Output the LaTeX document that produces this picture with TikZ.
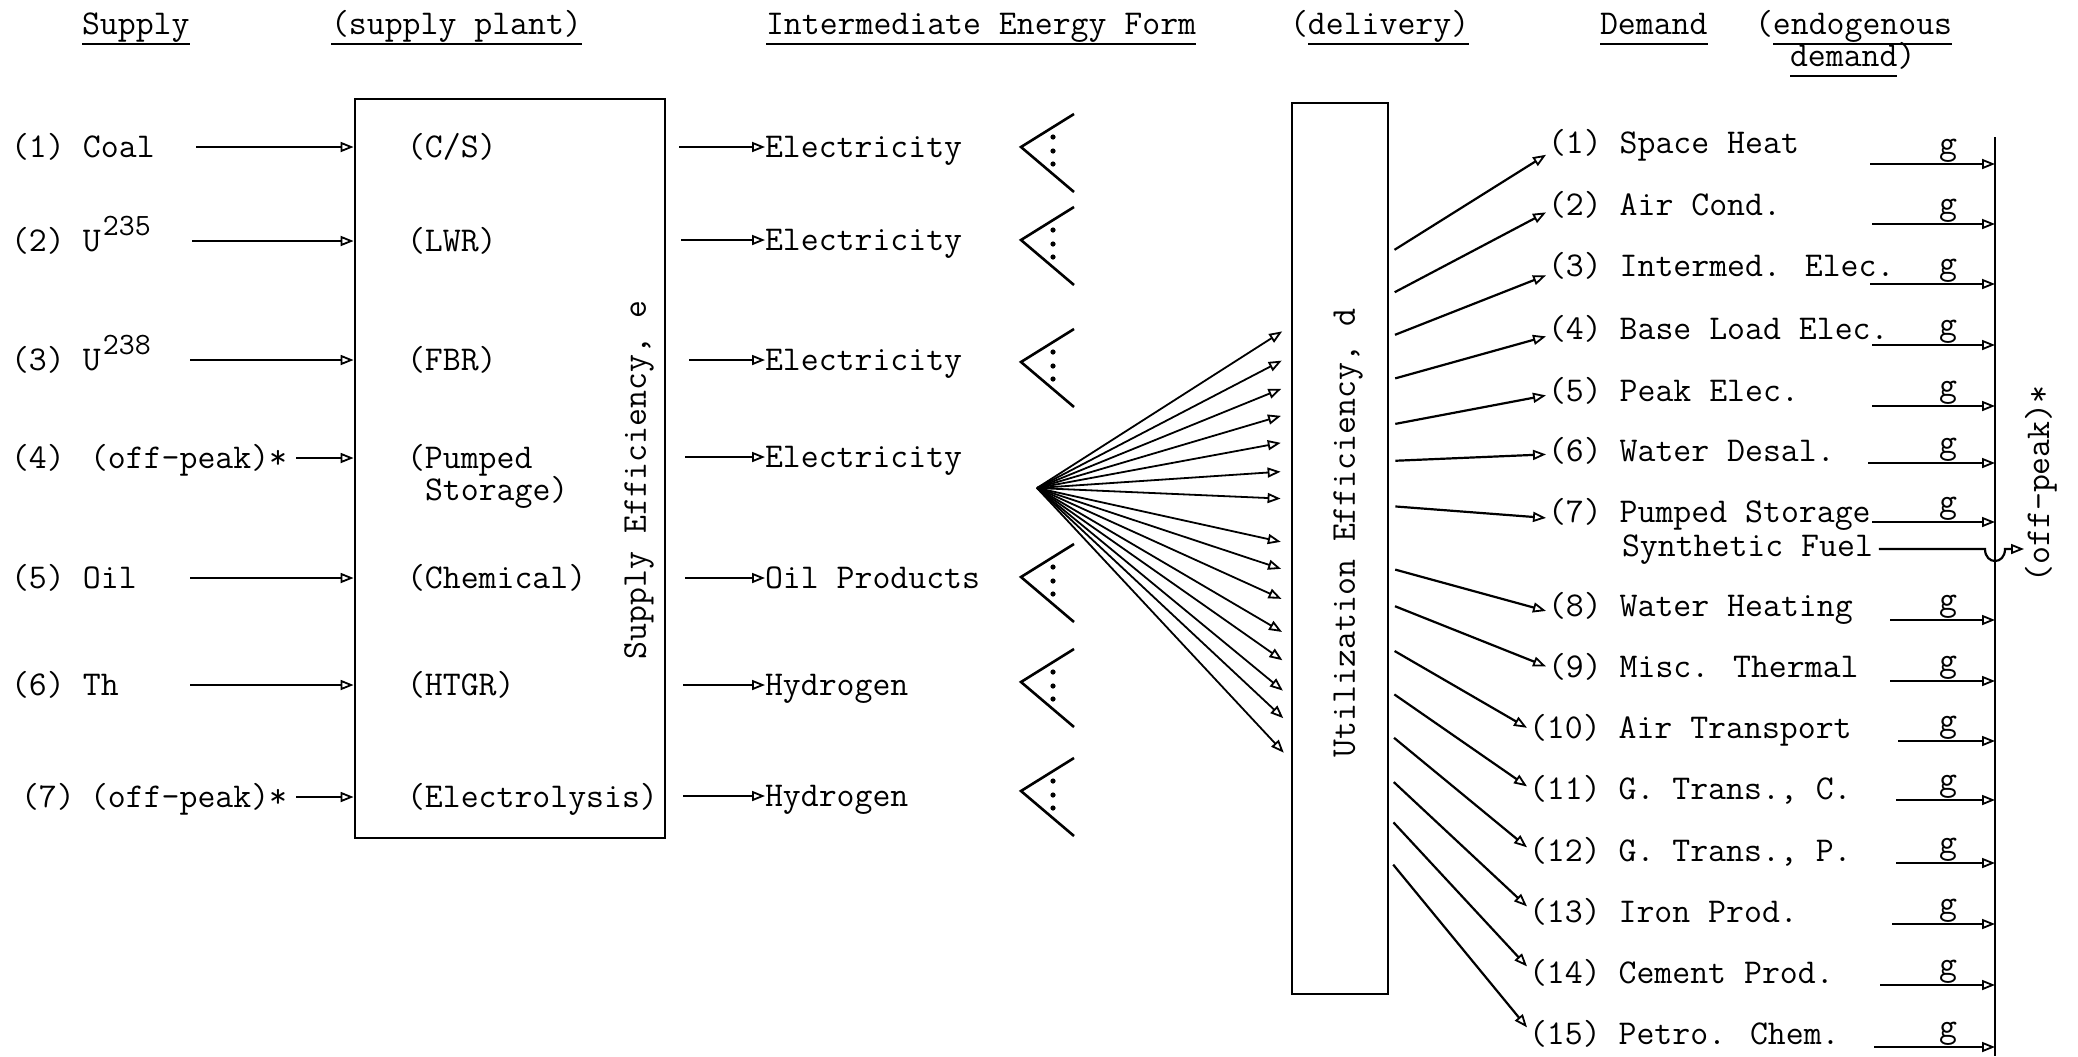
\documentclass[tikz,border=0pt]{standalone}
\usetikzlibrary{arrows.meta,calc}
\begin{document}
\begin{tikzpicture}[x=0.5pt,y=-0.5pt,
  tw/.style={font=\ttfamily\fontsize{17.4}{16}\selectfont, inner sep=0pt, outer sep=0pt},
  lbl/.style={tw, anchor=base west},
  rule/.style={line width=1.3pt},
  box/.style={draw, line width=1.4pt, inner sep=0pt},
  arr/.style={line width=1.1pt, -{Triangle[open,length=6.5pt,width=5pt,line width=0.9pt]}},
  wedge/.style={line width=1.3pt},
]
\useasboundingbox (0,0) rectangle (2078,1056);

% ---------- column headings ----------
\node[lbl] (hsup)   at (82,34)   {Supply};
\node[lbl] (hplant) at (331,34)  {(supply plant)};
\node[lbl] (hint)   at (766,34)  {Intermediate Energy Form};
\node[lbl] (hdel)   at (1290,34) {(delivery)};
\node[lbl] (hdem)   at (1600,34) {Demand};
\node[lbl] (hendo)  at (1755,34) {(endogenous};
\node[lbl] (hendo2) at (1790,66) {demand)};
\foreach \n in {hsup,hplant,hint,hdem}
  \draw[rule] ([yshift=-5pt]\n.base west) -- ([yshift=-5pt]\n.base east);
% underlines that leave out a bracket
\draw[rule] ([shift={(18,0)},yshift=-5pt]hdel.base west) -- ([yshift=-5pt]hdel.base east);
\draw[rule] ([shift={(18,0)},yshift=-5pt]hendo.base west) -- ([yshift=-5pt]hendo.base east);
\draw[rule] ([yshift=-5pt]hendo2.base west) -- ([shift={(-18,0)},yshift=-5pt]hendo2.base east);

% ---------- supply column ----------
\node[lbl] (n1) at (11,157)  {(1)};
\node[lbl] (n2) at (11,251)  {(2)};
\node[lbl] (n3) at (11,370)  {(3)};
\node[lbl] (n4) at (11,468)  {(4)};
\node[lbl] (n5) at (11,588)  {(5)};
\node[lbl] (n6) at (11,695)  {(6)};
\node[lbl] (n7) at (21,807)  {(7)};

\node[lbl] (src1) at (83,157) {Coal};
\node[lbl] (src2) at (83,251) {U\kern1pt\raisebox{8pt}{\fontsize{15.5}{16}\selectfont 235}};
\node[lbl] (src3) at (83,370) {U\kern1pt\raisebox{8pt}{\fontsize{15.5}{16}\selectfont 238}};
\node[lbl] (src4) at (90,468) {(off-peak)*};
\node[lbl] (src5) at (83,588) {Oil};
\node[lbl] (src6) at (83,695) {Th};
\node[lbl] (src7) at (90,807) {(off-peak)*};

% supply plant box
\node[box, minimum width=155pt, minimum height=369.5pt] (sbox) at (510,468.5) {};
\node[tw, rotate=90] (seff) at (639,480) {Supply Efficiency, e};

\node[lbl] (p1)  at (407,157) {(C/S)};
\node[lbl] (p2)  at (407,251) {(LWR)};
\node[lbl] (p3)  at (407,370) {(FBR)};
\node[lbl] (p4)  at (407,468) {(Pumped};
\node[lbl] (p4b) at (425,500) {Storage)};
\node[lbl] (p5)  at (407,588) {(Chemical)};
\node[lbl] (p6)  at (407,695) {(HTGR)};
\node[lbl] (p7)  at (407,807) {(Electrolysis)};

% input arrows
\coordinate (in1) at (196,147);
\coordinate (in2) at (192,241);
\coordinate (in3) at (190,360);
\coordinate (in4) at (296,458);
\coordinate (in5) at (190,578);
\coordinate (in6) at (190,685);
\coordinate (in7) at (296,797);
\foreach \i in {1,...,7}
  \draw[arr] (in\i) -- (in\i -| sbox.west);

% ---------- intermediate energy forms ----------
\node[lbl] (ie1) at (765,157) {Electricity};
\node[lbl] (ie2) at (765,250) {Electricity};
\node[lbl] (ie3) at (765,370) {Electricity};
\node[lbl] (ie4) at (765,467) {Electricity};
\node[lbl] (ie5) at (765,588) {Oil Products};
\node[lbl] (ie6) at (765,695) {Hydrogen};
\node[lbl] (ie7) at (765,806) {Hydrogen};

\coordinate (o1) at (679,147);
\coordinate (o2) at (681,240);
\coordinate (o3) at (689,360);
\coordinate (o4) at (685,457);
\coordinate (o5) at (685,578);
\coordinate (o6) at (683,685);
\coordinate (o7) at (683,796);
\foreach \i in {1,...,7}
  \draw[arr] (o\i) -- (o\i -| ie\i.west);

% open wedges with dots
\foreach \vy in {147,240,362,577,682,791}{
  \draw[wedge] (1074,\vy-33) -- (1021,\vy) -- (1074,\vy+45);
  \foreach \dd in {-10,4,17}
    \fill (1053,\vy+\dd) circle (1.3pt);
}

% ---------- delivery ----------
\node[box, minimum width=48pt, minimum height=445.5pt] (ubox) at (1340,548.5) {};
\node[tw, rotate=90] (ueff) at (1348,533) {Utilization Efficiency, d};

\coordinate (fanv) at (1037,488);
\foreach \yy in {326,356,385,413,441,471,499,544,572,603,637,666,697,725,760}
  \draw[arr, line width=0.9pt, shorten >=5pt] (fanv) -- (ubox.west |- 0,\yy);

% ---------- demand ----------
\node[lbl] (d1)  at (1548,153)  {(1) Space Heat};
\node[lbl] (d2)  at (1548,215)  {(2) Air Cond.};
\node[lbl] (d3)  at (1548,276)  {(3) Intermed. Elec.};
\node[lbl] (d4)  at (1548,339)  {(4) Base Load Elec.};
\node[lbl] (d5)  at (1548,401)  {(5) Peak Elec.};
\node[lbl] (d6)  at (1548,461)  {(6) Water Desal.};
\node[lbl] (d7)  at (1548,522)  {(7) Pumped Storage};
\node[lbl] (sf)  at (1622,556)  {Synthetic Fuel};
\node[lbl] (d8)  at (1548,616)  {(8) Water Heating};
\node[lbl] (d9)  at (1548,677)  {(9) Misc. Thermal};
\node[lbl] (d10) at (1529,738)  {(10) Air Transport};
\node[lbl] (d11) at (1529,799)  {(11) G. Trans., C.};
\node[lbl] (d12) at (1529,861)  {(12) G. Trans., P.};
\node[lbl] (d13) at (1529,922)  {(13) Iron Prod.};
\node[lbl] (d14) at (1529,983)  {(14) Cement Prod.};
\node[lbl] (d15) at (1529,1044) {(15) Petro. Chem.};

\foreach \k/\s/\dy in {1/253/10,2/295/8,3/337/10,4/380/8,5/425/5,6/461/4,7/506/4,
                       8/568/3,9/604/0,10/648/-2,11/691/-3,12/734/-4,13/778/-5,14/818/-6,15/860/-6}
  \draw[arr, shorten <=3pt] (ubox.east |- 0,\s) -- ([shift={(-2,\dy)}]d\k.west);

% endogenous demand column and off-peak return line
\coordinate (bus) at (1995,137);
\coordinate (busend) at (1995,1056);
\draw[line width=1.1pt] (bus) -- (busend);

\foreach \k/\ay/\gx in {1/164/1870,2/224/1872,3/284/1870,4/345/1872,
                        5/406/1872,6/463/1868,7/522/1872,8/620/1890,
                        9/681/1890,10/741/1898,11/800/1896,12/863/1896,
                        13/924/1892,14/985/1880,15/1047/1874}{
  \node[tw, anchor=base] (g\k) at (1948,\ay-10) {g};
  \coordinate (gs\k) at (\gx,\ay);
  \draw[arr] (gs\k) -- (gs\k -| bus);
}

\draw[arr, shorten <=3pt] (sf.east |- 0,549) -- (1985,549)
  .. controls (1985,565) and (2005,565) .. (2005,549) -- (2024,549);
\node[tw, rotate=90] (offpk) at (2041,484) {(off-peak)*};

\end{tikzpicture}
\end{document}
